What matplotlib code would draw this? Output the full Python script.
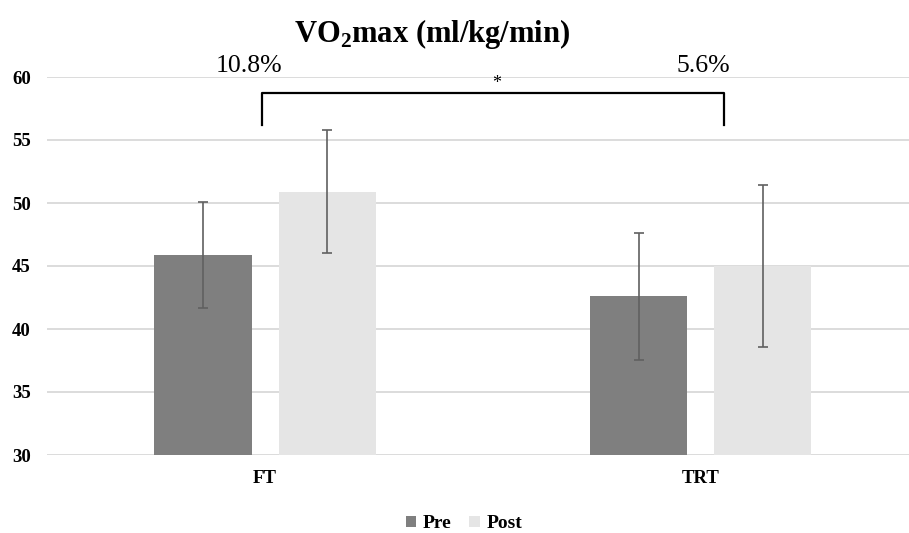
import matplotlib
matplotlib.use("Agg")
import matplotlib.pyplot as plt
import numpy as np

categories = ["FT", "TRT"]
series_names = ["Pre", "Post"]
pre_values = [45.9, 42.6]
post_values = [50.9, 45.0]
pre_err = [4.2, 5.05]
post_err = [4.9, 6.4]
pct_labels = ["10.8%", "5.6%"]
yticks = [30, 35, 40, 45, 50, 55, 60]
title = r"VO$_{\mathbf{2}}$max (ml/kg/min)"

plt.rcParams["font.family"] = ["Liberation Serif", "DejaVu Serif"]
plt.rcParams["mathtext.fontset"] = "custom"
plt.rcParams["mathtext.rm"] = "Liberation Serif:bold"
plt.rcParams["mathtext.bf"] = "Liberation Serif:bold"

W, H = 909, 533
fig = plt.figure(figsize=(W / 100, H / 100), dpi=100)
ax = fig.add_axes([47.3 / W, 1 - 455 / H, 1 - 47.3 / W, (455 - 77) / H])

x = np.arange(len(categories))
off = 0.1425
bw = 0.223
c_pre = "#7f7f7f"
c_post = "#e5e5e5"
ecol = "#606060"

ax.bar(x - off, pre_values, bw, color=c_pre, label=series_names[0], zorder=2)
ax.bar(x + off, post_values, bw, color=c_post, label=series_names[1], zorder=2)
ax.errorbar(x - off, pre_values, yerr=pre_err, fmt="none", ecolor=ecol,
            elinewidth=1.2, capsize=3.6, capthick=1.2, zorder=3)
ax.errorbar(x + off, post_values, yerr=post_err, fmt="none", ecolor=ecol,
            elinewidth=1.2, capsize=3.6, capthick=1.2, zorder=3)

ax.set_ylim(30, 60)
ax.set_xlim(-0.5, 1.478)
ax.set_yticks(yticks)
ax.set_yticklabels([str(t) for t in yticks], fontsize=13.5, fontweight="bold")
ax.set_xticks(x)
ax.set_xticklabels(categories, fontsize=13.5, fontweight="bold")
ax.tick_params(axis="y", length=0, pad=12)
ax.tick_params(axis="x", length=0, pad=11)
ax.yaxis.grid(True, color="#d9d9d9", linewidth=1.3, zorder=0)
ax.set_axisbelow(True)
for s in ax.spines.values():
    s.set_visible(False)

# significance bracket
bx = [-0.007, -0.007, 1.053, 1.053]
by = [56.2, 58.7, 58.7, 56.2]
ax.plot(bx, by, color="black", linewidth=1.6, clip_on=False, zorder=4,
        solid_joinstyle="round")
ax.text(0.531, 59.5, "*", ha="center", va="center", fontsize=13, clip_on=False)
ax.text(-0.036, 60.9, pct_labels[0], ha="center", va="center", fontsize=18.5)
ax.text(1.006, 60.9, pct_labels[1], ha="center", va="center", fontsize=18.5)

fig.text(432 / W, 1 - 41.7 / H, title, ha="center", va="baseline",
         fontsize=22, fontweight="bold")

fig.legend(loc="center", bbox_to_anchor=(464 / W, 1 - 524 / H), ncol=2,
           frameon=False, prop={"size": 14, "weight": "bold"},
           handlelength=0.55, handleheight=0.55, handletextpad=0.35,
           columnspacing=0.9, borderpad=0.1)

fig.savefig("out.png", dpi=100)
